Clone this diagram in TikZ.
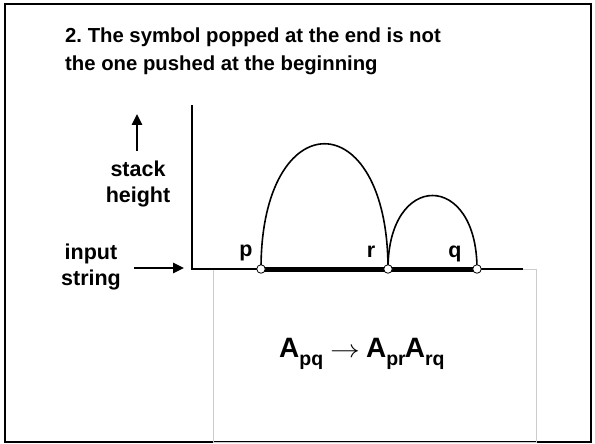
\documentclass[tikz,border=0pt]{standalone}
\usepackage{fontspec}
\usepackage{graphicx}
\setmainfont{Liberation Sans}
\usetikzlibrary{positioning,arrows.meta}
\frenchspacing
\newcommand\lowsub[1]{\raisebox{-8.5pt}{\fontsize{19.5}{20}\bfseries\selectfont #1}}
\begin{document}
\begin{tikzpicture}[x=1pt,y=-1pt,
  txt/.style={font=\fontsize{20.3}{28}\bfseries\selectfont},
  lbl/.style={font=\fontsize{21.5}{26}\bfseries\selectfont},
  dot/.style={circle,draw,fill=white,inner sep=0pt,minimum size=8.5pt,line width=0.8pt},
  hump/.style={line width=1.6pt},
  pointer/.style={line width=2.6pt,-{Triangle[length=11pt,width=10pt]}}]
  \useasboundingbox (0,0) rectangle (595,444);
  \draw[line width=2pt] (5,4) rectangle (591,442);
  % grey frame under the axis
  \draw[black!20,line width=0.8pt] (213,442) rectangle (536,269);
  \node[txt,anchor=west,align=left,inner sep=0pt] (title) at (65,51.5)
    {2. The symbol popped at the end is not\\the one pushed at the beginning};
  % axes
  \coordinate (o) at (192,269);
  \coordinate (top) at (192,105);
  \coordinate (end) at (523,269);
  \coordinate (p) at (261,269);
  \coordinate (r) at (388,269);
  \coordinate (q) at (477,269);
  \draw[line width=1.6pt] (top) -- (o) -- (end);
  \draw[line width=5pt] (p) -- (q);
  \draw[hump] (p) .. controls +(0,-167) and +(0,-167) .. (r);
  \draw[hump] (r) .. controls +(0,-98) and +(0,-98) .. (q);
  \node[dot] (pdot) at (p) {};
  \node[dot] (rdot) at (r) {};
  \node[dot] (qdot) at (q) {};
  \node[lbl,inner sep=0pt] (plbl) at (246,253) {p};
  \node[lbl,inner sep=0pt] (rlbl) at (371,251.5) {r};
  \node[lbl,inner sep=0pt] (qlbl) at (455,254) {q};
  % side labels
  \node[lbl,align=center] (stack) at (138,184) {stack\\height};
  \coordinate (up) at (137,114);
  \coordinate (upfoot) at (137,151);
  \draw[pointer] (upfoot) -- (up);
  \node[lbl,align=center] (input) at (91,267) {input\\string};
  \coordinate (in) at (184,268);
  \coordinate (infoot) at (134,268);
  \draw[pointer] (infoot) -- (in);
  % rule
  \node[font=\fontsize{28}{30}\bfseries\selectfont,inner sep=0pt,anchor=base west] (rule) at (279,357)
    {A\lowsub{pq}\hspace{7pt}\scalebox{1.2}[1]{$\rightarrow$}\hspace{6pt}A\lowsub{pr}\hspace{-1pt}A\lowsub{rq}};
\end{tikzpicture}
\end{document}
